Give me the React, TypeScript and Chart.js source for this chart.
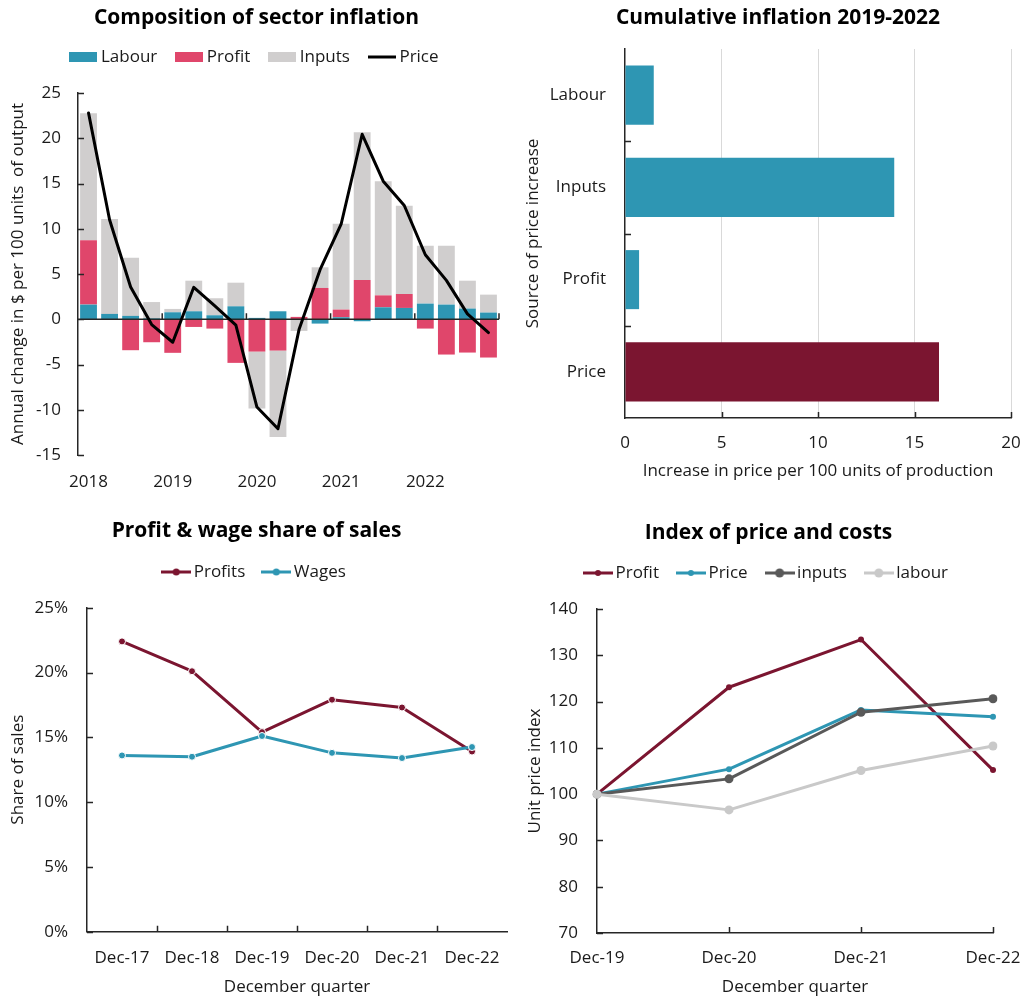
import React, { useEffect, useRef } from 'react';
import { Chart, registerables } from 'chart.js';

Chart.register(...registerables);

const FONT = "'Open Sans', 'Noto Sans', 'DejaVu Sans', sans-serif";
const TXT = '#1a1a1a';
const AXIS = '#262626';
const TEAL = '#2E96B3';
const PINK = '#E0466B';
const GREY = '#D0CECE';
const MAROON = '#7B1530';
const DARKGREY = '#595959';
const LIGHTGREY = '#C9C9C9';

// ---------- Chart 1: Composition of sector inflation ----------
const quarterLabels = [
  '2018 Q1', '2018 Q2', '2018 Q3', '2018 Q4',
  '2019 Q1', '2019 Q2', '2019 Q3', '2019 Q4',
  '2020 Q1', '2020 Q2', '2020 Q3', '2020 Q4',
  '2021 Q1', '2021 Q2', '2021 Q3', '2021 Q4',
  '2022 Q1', '2022 Q2', '2022 Q3', '2022 Q4',
];
const labourContribution = [1.62, 0.59, 0.37, 0.1, 0.77, 0.88, 0.44, 1.43, 0.15, 0.88, 0, -0.48, 0.22, -0.22, 1.32, 1.25, 1.73, 1.62, 1.18, 0.74];
const profitContribution = [7.1, 0, -3.42, -2.54, -3.71, -0.85, -1.03, -4.82, -3.57, -3.46, 0.26, 3.46, 0.85, 4.34, 1.32, 1.54, -1.03, -3.9, -3.68, -4.23];
const inputsContribution = [14.05, 10.5, 6.43, 1.8, 0.37, 3.38, 1.88, 2.61, -6.28, -9.55, -1.29, 2.28, 9.48, 16.32, 12.61, 9.75, 6.4, 6.51, 3.08, 1.98];
const priceChange = [22.8, 11.0, 3.57, -0.59, -2.54, 3.53, 1.47, -0.66, -9.7, -12.1, -1.14, 5.48, 10.5, 20.44, 15.26, 12.57, 7.13, 4.3, 0.59, -1.47];
const compMin = -15;
const compMax = 25;
const compStep = 5;

// ---------- Chart 2: Cumulative inflation 2019-2022 ----------
const sourceLabels = ['Labour', 'Inputs', 'Profit', 'Price'];
const cumulativeIncrease = [1.49, 13.95, 0.73, 16.27];
const sourceColors = [TEAL, TEAL, TEAL, MAROON];
const cumMin = 0;
const cumMax = 20;
const cumStep = 5;

// ---------- Chart 3: Profit & wage share of sales ----------
const shareQuarters = ['Dec-17', 'Dec-18', 'Dec-19', 'Dec-20', 'Dec-21', 'Dec-22'];
const profitShare = [22.4, 20.1, 15.4, 17.9, 17.3, 13.9];
const wageShare = [13.6, 13.5, 15.1, 13.8, 13.4, 14.25];
const shareMin = 0;
const shareMax = 25;
const shareStep = 5;

// ---------- Chart 4: Index of price and costs ----------
const indexQuarters = ['Dec-19', 'Dec-20', 'Dec-21', 'Dec-22'];
const profitIndex = [100, 123.1, 133.4, 105.2];
const priceIndex = [100, 105.4, 118.2, 116.7];
const inputsIndex = [100, 103.3, 117.7, 120.6];
const labourIndex = [100, 96.6, 105.1, 110.4];
const idxMin = 70;
const idxMax = 140;
const idxStep = 10;

const tickFont = { family: FONT, size: 17 };
const legendFont = { family: FONT, size: 17 };
const axisTitleFont = { family: FONT, size: 17 };
const titleFont = { family: FONT, size: 21, weight: 'bold' as const };

function swatch(kind: 'rect' | 'line' | 'lineDot', color: string, r = 3.5): HTMLCanvasElement {
  const c = document.createElement('canvas');
  if (kind === 'rect') {
    c.width = 28; c.height = 10;
    const g = c.getContext('2d')!;
    g.fillStyle = color; g.fillRect(0, 0, 28, 10);
  } else if (kind === 'line') {
    c.width = 28; c.height = 4;
    const g = c.getContext('2d')!;
    g.strokeStyle = color; g.lineWidth = 3;
    g.beginPath(); g.moveTo(0, 2); g.lineTo(28, 2); g.stroke();
  } else {
    c.width = 30; c.height = 10;
    const g = c.getContext('2d')!;
    g.strokeStyle = color; g.lineWidth = 3;
    g.beginPath(); g.moveTo(0, 5); g.lineTo(30, 5); g.stroke();
    g.fillStyle = color;
    g.beginPath(); g.arc(15, 5, r, 0, Math.PI * 2); g.fill();
  }
  return c;
}

function legendExtra(extra: number) {
  return {
    id: 'legendExtra',
    beforeLayout(chart: any) {
      const lg = chart.legend;
      if (lg && !lg.__patched) {
        const orig = lg.fit;
        lg.fit = function () {
          orig.call(this);
          this.height += extra;
        };
        lg.__patched = true;
      }
    },
  };
}

function makeLegend(items: { text: string; style: HTMLCanvasElement }[], padding: number) {
  return {
    display: true,
    position: 'top' as const,
    labels: {
      usePointStyle: true,
      pointStyleWidth: 18,
      padding,
      font: legendFont,
      color: TXT,
      generateLabels: () =>
        items.map((it, i) => ({
          text: it.text,
          pointStyle: it.style,
          fillStyle: 'rgba(0,0,0,0)',
          strokeStyle: 'rgba(0,0,0,0)',
          lineWidth: 0,
          hidden: false,
          datasetIndex: i,
          fontColor: TXT,
        })),
    },
  };
}

// inside tick marks helpers
function drawYInsideTicks(ctx: any, area: any, yScale: any, min: number, max: number, step: number) {
  for (let v = min; v <= max + 1e-9; v += step) {
    const p = Math.round(yScale.getPixelForValue(v)) + 0.5;
    ctx.moveTo(area.left, p);
    ctx.lineTo(area.left + 6, p);
  }
}

function config1(): any {
  const decor = {
    id: 'decor1',
    beforeDatasetDraw(chart: any, args: any) {
      if (args.meta.type !== 'line') return;
      const { ctx, chartArea: a, scales } = chart;
      const x = scales.x;
      const y = scales.y;
      const y0 = y.getPixelForValue(0);
      ctx.save();
      ctx.strokeStyle = AXIS;
      ctx.lineWidth = 1.5;
      ctx.beginPath();
      ctx.moveTo(a.left, y0);
      ctx.lineTo(a.right, y0);
      drawYInsideTicks(ctx, a, y, compMin, compMax, compStep);
      const step = x.getPixelForValue(1) - x.getPixelForValue(0);
      for (let i = 4; i <= quarterLabels.length; i += 4) {
        const px = x.getPixelForValue(i - 1) + step / 2;
        ctx.moveTo(px, y0);
        ctx.lineTo(px, y0 - 6);
      }
      ctx.stroke();
      ctx.restore();
    },
  };
  const barCommon = { categoryPercentage: 0.8, barPercentage: 1, order: 1 };
  return {
    type: 'bar',
    data: {
      labels: quarterLabels,
      datasets: [
        { label: 'Labour', data: labourContribution, backgroundColor: TEAL, ...barCommon },
        { label: 'Profit', data: profitContribution, backgroundColor: PINK, ...barCommon },
        { label: 'Inputs', data: inputsContribution, backgroundColor: GREY, ...barCommon },
        {
          type: 'line', label: 'Price', data: priceChange, borderColor: '#000', backgroundColor: '#000',
          borderWidth: 3, pointRadius: 0, pointHoverRadius: 0, order: 0, tension: 0,
          borderJoinStyle: 'round', borderCapStyle: 'round',
        },
      ],
    },
    options: {
      responsive: false,
      animation: false,
      layout: { padding: { left: 14, right: 15, top: 0, bottom: 0 } },
      plugins: {
        title: { display: true, text: 'Composition of sector inflation', font: titleFont, color: '#000', padding: { top: 5.4, bottom: -5.1 } },
        legend: makeLegend([
          { text: 'Labour', style: swatch('rect', TEAL) },
          { text: 'Profit', style: swatch('rect', PINK) },
          { text: 'Inputs', style: swatch('rect', GREY) },
          { text: 'Price', style: swatch('line', '#000') },
        ], 23),
        tooltip: { enabled: false },
      },
      scales: {
        x: {
          stacked: true,
          grid: { display: false, drawTicks: false },
          border: { display: false },
          ticks: {
            autoSkip: false, maxRotation: 0, minRotation: 0, padding: 17, font: tickFont, color: TXT,
            callback: (_v: any, i: number) => (i % 4 === 0 ? quarterLabels[i].slice(0, 4) : ''),
          },
          afterFit: (s: any) => { s.height = 45; s.paddingRight = 0; },
        },
        y: {
          stacked: true,
          min: compMin, max: compMax,
          ticks: { stepSize: compStep, padding: 17, font: tickFont, color: TXT },
          grid: { display: false, drawTicks: false },
          border: { display: true, color: AXIS, width: 1.5 },
          title: {
            display: true, text: 'Annual change in $ per 100 units  of output', font: axisTitleFont, color: TXT,
            padding: { top: 18 - 14 - 10.2, bottom: 0 },
          },
          afterFit: (s: any) => { s.width = 78 - 14; },
        },
      },
    },
    plugins: [legendExtra(17.5), decor],
  };
}

function config2(): any {
  const decor = {
    id: 'decor2',
    afterDatasetsDraw(chart: any) {
      const { ctx, chartArea: a, scales } = chart;
      const x = scales.x;
      const y = scales.y;
      ctx.save();
      ctx.strokeStyle = AXIS;
      ctx.lineWidth = 1.5;
      ctx.beginPath();
      const step = y.getPixelForValue(1) - y.getPixelForValue(0);
      for (let i = 1; i < sourceLabels.length; i++) {
        const py = Math.round(y.getPixelForValue(i) - step / 2) + 0.5;
        ctx.moveTo(a.left, py);
        ctx.lineTo(a.left + 6, py);
      }
      for (let v = cumMin + cumStep; v <= cumMax; v += cumStep) {
        const px = Math.round(x.getPixelForValue(v)) + 0.5;
        ctx.moveTo(px, a.bottom);
        ctx.lineTo(px, a.bottom - 6);
      }
      ctx.stroke();
      ctx.restore();
    },
  };
  return {
    type: 'bar',
    data: {
      labels: sourceLabels,
      datasets: [
        { label: 'Increase', data: cumulativeIncrease, backgroundColor: sourceColors, categoryPercentage: 0.64, barPercentage: 1 },
      ],
    },
    options: {
      indexAxis: 'y',
      responsive: false,
      animation: false,
      layout: { padding: { left: 31, right: 17, top: 0, bottom: 0 } },
      plugins: {
        title: { display: true, text: 'Cumulative inflation 2019-2022', font: titleFont, color: '#000', padding: { top: 5.4, bottom: 18.4 } },
        legend: { display: false },
        tooltip: { enabled: false },
      },
      scales: {
        x: {
          min: cumMin, max: cumMax,
          ticks: { stepSize: cumStep, padding: 15, font: tickFont, color: TXT },
          grid: {
            drawTicks: false, lineWidth: 1,
            color: (c: any) => (c.tick && c.tick.value === 0 ? 'rgba(0,0,0,0)' : '#D9D9D9'),
          },
          border: { display: true, color: AXIS, width: 1.5 },
          title: {
            display: true, text: 'Increase in price per 100 units of production', font: axisTitleFont, color: TXT,
            padding: { top: 0, bottom: 500 - 471 - 10.2 },
          },
          afterFit: (s: any) => { s.height = 82; s.paddingRight = 0; s.paddingLeft = 0; },
        },
        y: {
          grid: { display: false, drawTicks: false },
          border: { display: true, color: AXIS, width: 1.5 },
          ticks: { padding: 19, font: tickFont, color: TXT },
          title: {
            display: true, text: 'Source of price increase', font: axisTitleFont, color: TXT,
            padding: { top: 19 - 31 - 10.2, bottom: 0 },
          },
          afterFit: (s: any) => { s.width = 111 - 31; },
        },
      },
    },
    plugins: [decor],
  };
}

function config3(): any {
  const decor = {
    id: 'decor3',
    beforeDatasetsDraw(chart: any) {
      const { ctx, chartArea: a, scales } = chart;
      const x = scales.x;
      const y = scales.y;
      ctx.save();
      ctx.strokeStyle = AXIS;
      ctx.lineWidth = 1.5;
      ctx.beginPath();
      drawYInsideTicks(ctx, a, y, shareMin, shareMax, shareStep);
      const step = x.getPixelForValue(1) - x.getPixelForValue(0);
      for (let i = 1; i < shareQuarters.length; i++) {
        const px = Math.round(x.getPixelForValue(i) - step / 2) + 0.5;
        ctx.moveTo(px, a.bottom);
        ctx.lineTo(px, a.bottom - 6);
      }
      ctx.stroke();
      ctx.restore();
    },
  };
  const lineCommon = {
    borderWidth: 3, pointRadius: 3.5, pointHoverRadius: 3.5, pointBorderColor: '#fff', pointBorderWidth: 1,
    tension: 0, borderJoinStyle: 'round', borderCapStyle: 'round',
  };
  return {
    type: 'line',
    data: {
      labels: shareQuarters,
      datasets: [
        { label: 'Profits', data: profitShare, borderColor: MAROON, backgroundColor: MAROON, pointBackgroundColor: MAROON, order: 2, ...lineCommon },
        { label: 'Wages', data: wageShare, borderColor: TEAL, backgroundColor: TEAL, pointBackgroundColor: TEAL, order: 1, ...lineCommon },
      ],
    },
    options: {
      responsive: false,
      animation: false,
      layout: { padding: { left: 6, right: 7, top: 0, bottom: 0 } },
      plugins: {
        title: { display: true, text: 'Profit & wage share of sales', font: titleFont, color: '#000', padding: { top: 18.4, bottom: -2.1 } },
        legend: makeLegend([
          { text: 'Profits', style: swatch('lineDot', MAROON, 3.5) },
          { text: 'Wages', style: swatch('lineDot', TEAL, 3.5) },
        ], 22),
        tooltip: { enabled: false },
      },
      scales: {
        x: {
          offset: true,
          grid: { display: false, drawTicks: false },
          border: { display: true, color: AXIS, width: 1.5 },
          ticks: { autoSkip: false, maxRotation: 0, padding: 16, font: tickFont, color: TXT },
          title: { display: true, text: 'December quarter', font: axisTitleFont, color: TXT, padding: { top: 0, bottom: 500 - 487 - 10.2 } },
          afterFit: (s: any) => { s.height = 68.3; s.paddingRight = 0; },
        },
        y: {
          min: shareMin, max: shareMax,
          ticks: { stepSize: shareStep, padding: 19, font: tickFont, color: TXT, callback: (v: any) => v + '%' },
          grid: { display: false, drawTicks: false },
          border: { display: true, color: AXIS, width: 1.5 },
          title: { display: true, text: 'Share of sales', font: axisTitleFont, color: TXT, padding: { top: 18 - 6 - 10.2, bottom: 0 } },
          afterFit: (s: any) => { s.width = 87 - 6; },
        },
      },
    },
    plugins: [legendExtra(17.2), decor],
  };
}

function config4(): any {
  const decor = {
    id: 'decor4',
    beforeDatasetsDraw(chart: any) {
      const { ctx, chartArea: a, scales } = chart;
      const x = scales.x;
      const y = scales.y;
      ctx.save();
      ctx.strokeStyle = AXIS;
      ctx.lineWidth = 1.5;
      ctx.beginPath();
      drawYInsideTicks(ctx, a, y, idxMin, idxMax, idxStep);
      for (let i = 1; i < indexQuarters.length; i++) {
        const px = Math.round(x.getPixelForValue(i)) + 0.5;
        ctx.moveTo(px, a.bottom);
        ctx.lineTo(px, a.bottom - 6);
      }
      ctx.stroke();
      ctx.restore();
    },
  };
  const lineCommon = { borderWidth: 3, tension: 0, borderJoinStyle: 'round', borderCapStyle: 'round', pointBorderWidth: 0 };
  return {
    type: 'line',
    data: {
      labels: indexQuarters,
      datasets: [
        { label: 'Profit', data: profitIndex, borderColor: MAROON, backgroundColor: MAROON, pointBackgroundColor: MAROON, pointRadius: 3, order: 4, ...lineCommon },
        { label: 'Price', data: priceIndex, borderColor: TEAL, backgroundColor: TEAL, pointBackgroundColor: TEAL, pointRadius: 3, order: 3, ...lineCommon },
        { label: 'inputs', data: inputsIndex, borderColor: DARKGREY, backgroundColor: DARKGREY, pointBackgroundColor: DARKGREY, pointRadius: 4.5, order: 2, ...lineCommon },
        { label: 'labour', data: labourIndex, borderColor: LIGHTGREY, backgroundColor: LIGHTGREY, pointBackgroundColor: LIGHTGREY, pointRadius: 4.5, order: 1, ...lineCommon },
      ],
    },
    options: {
      responsive: false,
      animation: false,
      layout: { padding: { left: 30, right: 35, top: 0, bottom: 0 } },
      plugins: {
        title: { display: true, text: 'Index of price and costs', font: titleFont, color: '#000', padding: { top: 20.4, bottom: -4.1 } },
        legend: makeLegend([
          { text: 'Profit', style: swatch('lineDot', MAROON, 3) },
          { text: 'Price', style: swatch('lineDot', TEAL, 3) },
          { text: 'inputs', style: swatch('lineDot', DARKGREY, 4.5) },
          { text: 'labour', style: swatch('lineDot', LIGHTGREY, 4.5) },
        ], 23),
        tooltip: { enabled: false },
      },
      scales: {
        x: {
          offset: false,
          grid: { display: false, drawTicks: false },
          border: { display: true, color: AXIS, width: 1.5 },
          ticks: { autoSkip: false, maxRotation: 0, padding: 15, font: tickFont, color: TXT },
          title: { display: true, text: 'December quarter', font: axisTitleFont, color: TXT, padding: { top: 0, bottom: 500 - 487 - 10.2 } },
          afterFit: (s: any) => { s.height = 67; s.paddingRight = 0; s.paddingLeft = 0; },
        },
        y: {
          min: idxMin, max: idxMax,
          ticks: { stepSize: idxStep, padding: 19, font: tickFont, color: TXT },
          grid: { display: false, drawTicks: false },
          border: { display: true, color: AXIS, width: 1.5 },
          title: { display: true, text: 'Unit price index', font: axisTitleFont, color: TXT, padding: { top: 21 - 30 - 10.2, bottom: 0 } },
          afterFit: (s: any) => { s.width = 83 - 30; },
        },
      },
    },
    plugins: [legendExtra(17.5), decor],
  };
}

function ChartBox(props: { left: number; top: number; width: number; height: number; make: () => any }) {
  const ref = useRef<HTMLCanvasElement>(null);
  useEffect(() => {
    const chart = new Chart(ref.current as HTMLCanvasElement, props.make());
    return () => chart.destroy();
  }, []);
  return (
    <canvas
      ref={ref}
      width={props.width}
      height={props.height}
      style={{ position: 'absolute', left: props.left, top: props.top, width: props.width, height: props.height }}
    />
  );
}

export default function App() {
  return (
    <div style={{ position: 'absolute', left: 0, top: 0, width: 1028, height: 1000, background: '#fff', overflow: 'hidden' }}>
      <ChartBox left={0} top={0} width={514} height={500} make={config1} />
      <ChartBox left={514} top={0} width={514} height={500} make={config2} />
      <ChartBox left={0} top={500} width={514} height={500} make={config3} />
      <ChartBox left={514} top={500} width={514} height={500} make={config4} />
    </div>
  );
}
